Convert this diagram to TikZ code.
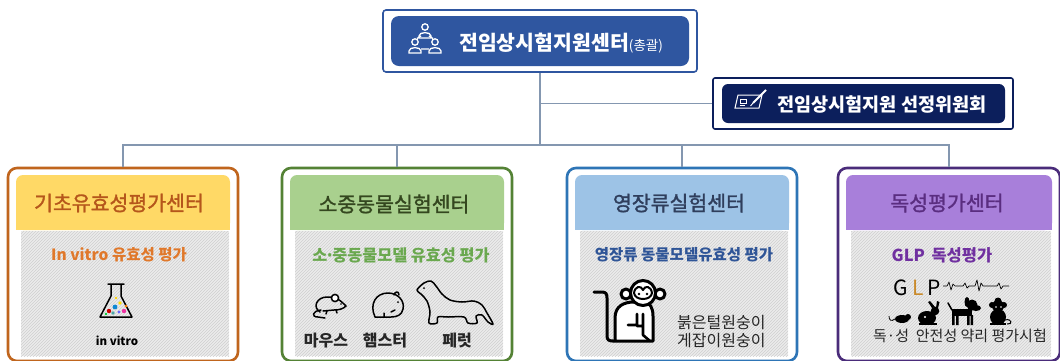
\documentclass[tikz,border=0pt]{standalone}
\usepackage{fontspec}
\setmainfont{Noto Sans CJK KR}
\newfontfamily\medfont{Noto Sans CJK KR}[FakeBold=1.4]
\usetikzlibrary{patterns,calc}

\definecolor{hqblue}{HTML}{2F56A0}
\definecolor{navy}{HTML}{0C1F5C}
\definecolor{linec}{HTML}{8497B0}
\definecolor{bodygray}{HTML}{ECECEC}
\definecolor{hatch}{HTML}{CFCFCF}
% orange unit
\definecolor{orgline}{HTML}{C0651D}
\definecolor{orghead}{HTML}{FFD966}
\definecolor{orgtext}{HTML}{B5561B}
\definecolor{orgsub}{HTML}{E0782A}
% green unit
\definecolor{grnline}{HTML}{548235}
\definecolor{grnhead}{HTML}{A9D08E}
\definecolor{grntext}{HTML}{34471F}
\definecolor{grnsub}{HTML}{6AA84F}
% blue unit
\definecolor{bluline}{HTML}{2E75B6}
\definecolor{bluhead}{HTML}{9DC3E6}
\definecolor{blutext}{HTML}{2F3E5C}
\definecolor{blusub}{HTML}{2F5597}
% purple unit
\definecolor{purline}{HTML}{4A2C7A}
\definecolor{purhead}{HTML}{A87FDA}
\definecolor{purtext}{HTML}{5A2D80}
\definecolor{pursub}{HTML}{7030A0}
\definecolor{glpgold}{HTML}{C98A2A}

\tikzset{
  conn/.style={draw=linec, line width=1.2pt},
  outerbox/.style={draw=#1, line width=2.6pt, rounded corners=9pt, fill=white,
    minimum height=193pt, inner sep=0pt},
  hdrtxt/.style={font=\medfont\fontsize{20.5}{22}\selectfont, text=#1},
  subtxt/.style={font=\bfseries\fontsize{15.5}{17}\selectfont, text=#1},
  lbl/.style={font=\bfseries\fontsize{16}{18}\selectfont, text=black!85},
  plain/.style={font=\fontsize{16}{18}\selectfont, text=black!85},
  ico/.style={draw=white, line width=1.3pt},
  outl/.style={draw=black, line width=1.5pt, line join=round, line cap=round},
  thick outl/.style={draw=black, line width=3pt, line join=round, line cap=round},
  glpletter/.style={font=\fontsize{21}{23}\selectfont, inner sep=0pt},
}

% one centre: frame, coloured heading band and hatched body
\newcommand\unitbox[5]{%
  \node[outerbox=#4, minimum width=#3pt-#2pt] (#1) at ({(#2+#3)/2},264.5) {};
  \fill[#5, rounded corners=7pt] (#2+8,175) rectangle (#3-8,230);
  \fill[#5] (#2+8,205) rectangle (#3-8,230);
  \fill[bodygray] (#2+13,231) rectangle (#3-9,356);
  \fill[pattern=north east lines, pattern color=hatch] (#2+13,231) rectangle (#3-9,356);
}

% outline person for the headquarters emblem
\newcommand\person[2]{%
  \draw[ico] (#1,#2) circle (3.2);
  \draw[ico] (#1-6,#2+11) -- (#1-6,#2+9) .. controls (#1-6,#2+4.5) and (#1+6,#2+4.5) .. (#1+6,#2+9) -- (#1+6,#2+11) -- cycle;
}

\begin{document}
\begin{tikzpicture}[x=1pt,y=-1pt]
\useasboundingbox (0,0) rectangle (1060,360);
\clip (0,0) rectangle (1060,360);
\fill[white] (0,0) rectangle (1060,360);

% ---------- headquarters ----------
\node[draw=hqblue, line width=1.6pt, rounded corners=3pt, fill=white,
      minimum width=314pt, minimum height=62pt, inner sep=0pt] (hq) at (540,41) {};
\fill[hqblue, rounded corners=8pt] (391,16) rectangle (689,66);
\person{425}{27}
\person{415}{42}
\person{435}{42}
\draw[ico] (421,36) -- (417,38.5) (429,36) -- (433,38.5) (421,49) -- (429,49);
\node[anchor=west, inner sep=0pt, text=white] (hqtxt) at (459,43)
  {\bfseries\fontsize{20.5}{22}\selectfont 전임상시험지원센터\fontsize{13.5}{15}\mdseries\selectfont(총괄)};

% ---------- selection committee ----------
\node[draw=navy, line width=1.6pt, rounded corners=2pt, fill=white,
      minimum width=300pt, minimum height=51pt, inner sep=0pt] (cmt) at (863,103.5) {};
\fill[navy, rounded corners=6pt] (722,84) rectangle (1005,123);
% paper and pen emblem
\draw[ico, line width=1pt] (735,108) -- (738,95) -- (762,95) -- (759,108) -- cycle;
\draw[ico, line width=0.9pt] (740,99) rectangle (746,103) (739.5,105) -- (745,105);
\draw[ico, line width=1.8pt] (753,103) -- (766,90);
\draw[ico, line width=0.9pt] (750.5,106) -- (753,103);
\node[anchor=west, inner sep=0pt, text=white, font=\bfseries\fontsize{18.6}{20}\selectfont]
  (cmttxt) at (777,104) {전임상시험지원 선정위원회};

% ---------- four centres ----------
\unitbox{b1}{8}{238}{orgline}{orghead}
\unitbox{b2}{282}{512}{grnline}{grnhead}
\unitbox{b3}{567}{797}{bluline}{bluhead}
\unitbox{b4}{838}{1060}{purline}{purhead}

% ---------- connectors ----------
\coordinate (bus) at (540,145);
\draw[conn] (hq.south) -- (hq.south |- bus);
\draw[conn] (hq.south |- cmt.west) -- (cmt.west);
\draw[conn] (b1.north) -- (b1.north |- bus) -- (b4.north |- bus) -- (b4.north);
\draw[conn] (b2.north) -- (b2.north |- bus);
\draw[conn] (b3.north) -- (b3.north |- bus);

% ---------- centre 1 ----------
\node[hdrtxt=orgtext] (h1) at (119,203) {기초유효성평가센터};
\node[subtxt=orgsub] (s1) at (119,255) {In vitro 유효성 평가};
\draw[outl] (108,284) -- (124,284) (111,284) -- (111,296) -- (100,317) -- (132,317) -- (121,296) -- (121,284);
\fill[red!80!black] (109,311) circle (2.2);
\fill[cyan!70!blue] (115,307) circle (2.4);
\fill[yellow!80!orange] (120,303) circle (1.9);
\fill[magenta!80] (124,311) circle (2.2);
\fill[teal!70] (113,313) circle (1.8);
\fill[blue!60] (119,312) circle (1.6);
\fill[orange] (126,306) circle (1.5);
\fill[yellow!70!orange] (116,298) circle (1.3);
\fill[green!60!teal] (106,314) circle (1.3);
\node[font=\bfseries\fontsize{11.5}{13}\selectfont] (l1) at (117,341) {in vitro};

% ---------- centre 2 ----------
\node[hdrtxt=grntext] (h2) at (394,204) {소중동물실험센터};
\node[subtxt=grnsub, font=\bfseries\fontsize{16.3}{18}\selectfont] (s2) at (401,255)
  {소\kern-2.5pt·\kern-2.5pt중동물모델 유효성 평가};
% mouse
\draw[outl] (320,312) .. controls (312,307) and (317,297) .. (327,297) -- (332,297)
  .. controls (338,298) and (342,302) .. (346,306) .. controls (343,309) and (339,310) .. (334,310) -- (323,311);
\draw[outl, fill=white] (335,298) circle (3.6);
\draw[outl] (321,310) .. controls (312,311) and (311,317) .. (318,317) -- (325,318);
\draw[outl] (327,311) -- (326,314) (336,310) -- (337,313);
\fill (341,304) circle (0.9);
% hamster
\draw[outl] (375,317) .. controls (369,304) and (376,293) .. (388,293)
  .. controls (398,293) and (405,301) .. (403,309) .. controls (402,315) and (397,317) .. (391,317) -- cycle;
\draw[outl] (394,295) .. controls (395,291) and (399,291) .. (399,295);
\fill (398,302) circle (1);
\draw[outl] (395,310) -- (391,312) (384,317) -- (384,313);
% ferret
\draw[outl] plot[smooth cycle, tension=0.55] coordinates {
  (417,290) (424,283) (431,281) (436,286) (442,294) (450,300) (462,302) (474,301)
  (482,305) (487,313) (493,324) (488,322) (482,315) (476,316) (477,323) (468,323)
  (464,317) (448,317) (438,317) (437,323) (429,323) (430,312) (427,301) (421,294) };
\fill (424,288) circle (1);
\node[lbl] (m1) at (326,341) {마우스};
\node[lbl] (m2) at (385,341) {햄스터};
\node[lbl] (m3) at (457,341) {페럿};

% ---------- centre 3 ----------
\node[hdrtxt=blutext] (h3) at (679,203) {영장류실험센터};
\node[subtxt=blusub] (s3) at (684,255) {영장류 동물모델유효성 평가};
% monkey
\draw[thick outl] (594,292) -- (602,292) .. controls (606,292) and (607,294) .. (607,298)
  -- (607,336) .. controls (607,340) and (609,341) .. (613,341);
\draw[thick outl, fill=white] (613,341) -- (615,341) -- (615,318) .. controls (615,306) and (624,302) .. (634,302)
  -- (644,302) .. controls (650,302) and (653,308) .. (653,316) -- (653,341) -- cycle;
\draw[thick outl, line width=2.6pt] (637,314) -- (637,326) -- (643,326) (643,314) -- (643,335) -- (650,341) (628,325) -- (637,325);
\draw[thick outl, fill=white] (626,294) circle (5);
\draw[thick outl, fill=white] (660,294) circle (5);
\draw[thick outl, fill=white] (643,293) circle (12.5);
\draw[outl, line width=2pt] (634,293) .. controls (635,286) and (641,285) .. (643,290) .. controls (645,285) and (651,286) .. (652,293)
  .. controls (651,301) and (635,301) .. (634,293);
\fill (639,294) circle (1.3) (647,294) circle (1.3);
\node[plain, anchor=west, inner sep=0pt] (n1) at (677,323) {붉은털원숭이};
\node[plain, anchor=west, inner sep=0pt] (n2) at (677,341) {게잡이원숭이};

% ---------- centre 4 ----------
\node[hdrtxt=purtext] (h4) at (947,203) {독성평가센터};
\node[subtxt=pursub, font=\bfseries\fontsize{16.5}{18}\selectfont] (s4) at (942,255) {GLP\ \,독성평가};
\node[glpletter] (glpg) at (901,288) {G};
\node[glpletter, text=glpgold] (glpl) at (918,288) {L};
\node[glpletter] (glpp) at (934,288) {P};
\draw[line width=0.7pt, line join=round] (943,286) -- (947,286) -- (949,282) -- (951,290) -- (953,284) -- (955,286)
  -- (963,286) -- (965,283) -- (967,288) -- (969,286) -- (975,286) -- (977,280) -- (979,291) -- (981,283) -- (983,286)
  -- (997,286) -- (999,283) -- (1001,289) -- (1003,286) -- (1009,286);
% small animals
\fill (902,319) ellipse (7 and 4);
\fill (908,317) circle (3);
\draw[line width=0.8pt] (895,319) .. controls (891,322) and (889,320) .. (889,316);
\fill (927,318) ellipse (9 and 7);
\fill (935,311) circle (4.3);
\fill (932,308) -- (928,302) -- (930,301) -- (935,307) -- cycle;
\fill (936,308) -- (937,301) -- (939.5,302) -- (938,308) -- cycle;
\fill (919,323) rectangle (937,325);
\fill[white] (925,317) circle (1.2);
\fill (952,309) rectangle (972,316);
\fill (952,315) rectangle (954.5,325) (956,315) rectangle (958.5,325) (967,315) rectangle (969.5,325) (970.5,315) rectangle (973,325);
\fill (972,305) circle (5.5);
\fill (976,308) ellipse (5 and 3);
\fill (967,302) ellipse (2.5 and 5);
\draw[line width=1.6pt, line cap=round] (952,310) -- (948,303);
\fill (998,317) ellipse (8 and 8);
\fill (998,306) circle (6);
\fill (992,305) circle (3) (1004,305) circle (3) (998,301) circle (3.5);
\fill[white] (996,307) circle (0.9) (1001,307) circle (0.9);
\draw[line width=1pt] (1005,320) .. controls (1012,318) and (1013,325) .. (1007,324);
\fill (990,323) rectangle (1006,325);
\node[plain, font=\fontsize{15}{17}\selectfont] (t4) at (960,336) {독·성\ \ 안전성 약리 평가시험};

\end{tikzpicture}
\end{document}
